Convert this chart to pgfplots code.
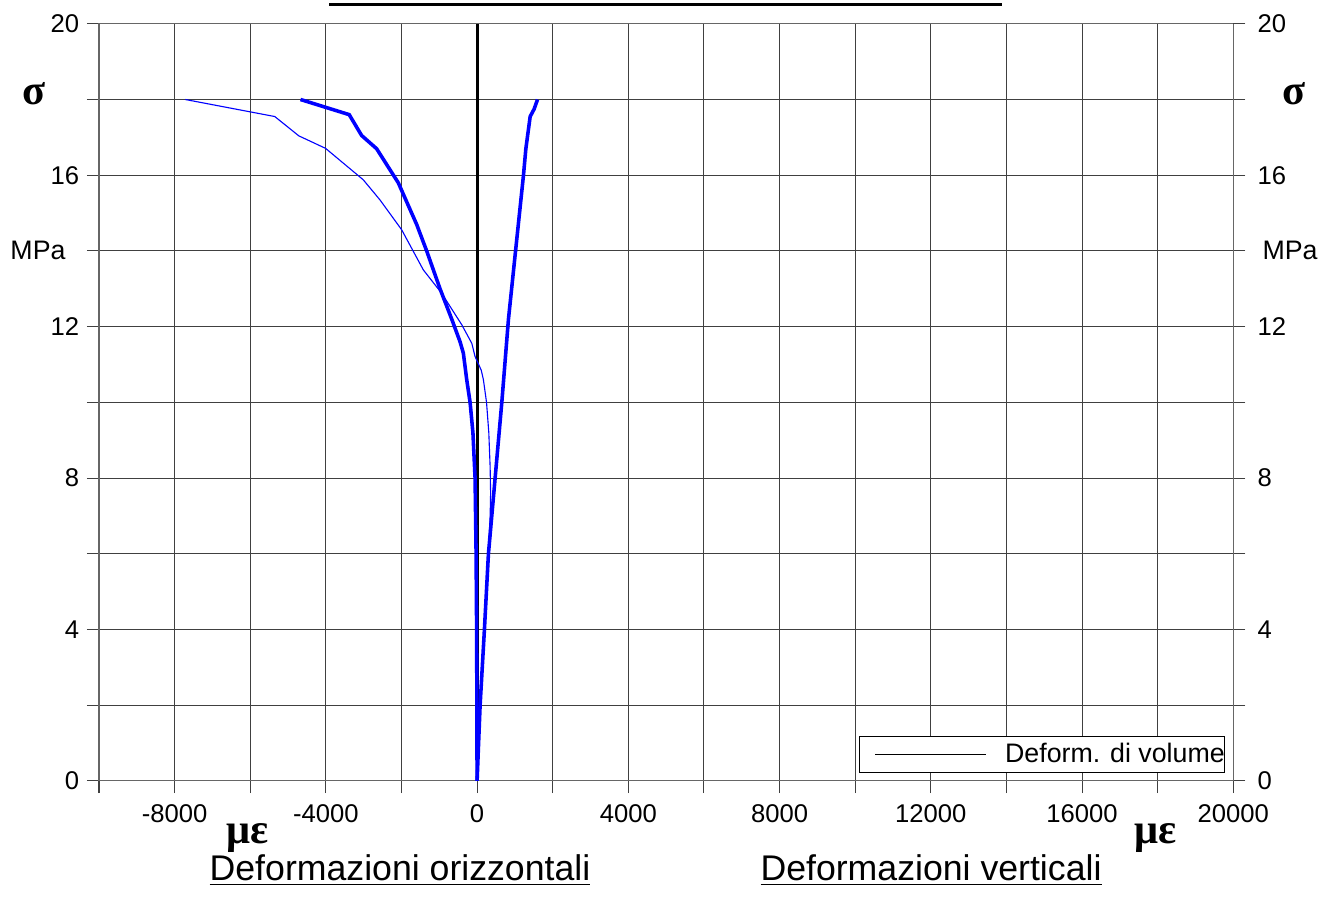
\documentclass[border=0pt]{standalone}
\usepackage{fontspec}
\setmainfont{Liberation Sans}
\newfontfamily\greekfont{Liberation Serif}
\usepackage{pgfplots}
\pgfplotsset{compat=1.18}

\pgfplotstableread{
x y
0 0
-5 2
-12 4
-26 6
-53 8
-110 9.2
-185 10
-274 10.6
-363 11.3
-450 11.6
-671 12.2
-980 13.0
-1333 14.0
-1598 14.7
-2084 15.8
-2657 16.7
-3054 17.05
-3382 17.6
-4670 18.0
}\orizz

\pgfplotstableread{
x y
0 0
80 2
194 4
300 6
477 8
654 10
830 12.2
1007 13.9
1227 16.0
1290 16.7
1404 17.55
1510 17.75
1598 18.0
}\vert

\pgfplotstableread{
x y
0 0
80 2
194 4
300 6
345 7
358 7.6
345 8.3
310 9.2
250 10
167 10.6
110 10.85
-53 11.21
-140 11.56
-405 12.05
-935 12.88
-1422 13.5
-1995 14.56
-2570 15.35
-3011 15.88
-4008 16.71
-4715 17.04
-5351 17.55
-7717 18.0
}\volume

\pgfplotsset{
  common/.style={
    at={(0,0)}, anchor=south west,
    scale only axis, width=17.878cm, height=11.935cm,
    xmin=-10000, xmax=20000, ymin=0, ymax=20,
    scaled x ticks=false, scaled y ticks=false,
    ytick={0,2,...,20},
    yticklabels={0,,4,,8,,12,,16,,20},
    tick align=outside,
    major tick length=0.19cm,
    tick style={black!75, line width=0.45pt},
    axis line style={black!60, line width=0.45pt},
    every tick label/.append style={font=\fontsize{11.5}{13}\selectfont},
    /pgf/number format/assume math mode=true,
  },
}

\begin{document}
\begin{tikzpicture}
\begin{axis}[common,
  xtick={-10000,-8000,...,20000},
  xticklabels={,-8000,,-4000,,0,,4000,,8000,,12000,,16000,,20000},
  xticklabel style={yshift=-1.8pt},
  xtick pos=bottom, ytick pos=left,
  grid=major, grid style={black!75, line width=0.45pt},
  legend style={at={(0.99295,0.01057)}, anchor=south east,
    draw=black, line width=0.45pt, inner xsep=0pt, inner ysep=0.5pt,
    font=\fontsize{12}{14}\selectfont,
    nodes={inner xsep=0pt, inner ysep=2.5pt}},
  legend image code/.code={\path[draw=none] (0,0) -- (2.29cm,0);
    \draw[#1] (0.24cm,0cm) -- (1.99cm,0cm);},
]
\addplot[black, line width=1.4pt, forget plot] coordinates {(0,0) (0,20)};
\addplot[blue, line width=0.5pt, forget plot] table {\volume};
\addplot[blue, line width=1.6pt, forget plot] table {\orizz};
\addplot[blue, line width=1.6pt, forget plot] table {\vert};
\addlegendimage{black, line width=0.5pt}
\addlegendentry{Deform. di volume}
\end{axis}
\begin{axis}[common,
  hide x axis, axis y line*=right,
  xtick=\empty,
  yticklabel style={xshift=2pt},
]
\end{axis}
\begin{scope}[x=0.0157658cm, y=0.0157658cm]
  \useasboundingbox (-99,-132) rectangle (1233,781);
  \draw[black, line width=1.35pt] (230,776) -- (903,776);
  \node[font=\greekfont\bfseries\fontsize{19}{22}\selectfont, anchor=center] at (-65,687) {σ};
  \node[font=\greekfont\bfseries\fontsize{19}{22}\selectfont, anchor=center] at (1195,687) {σ};
  \node[font=\fontsize{12}{14}\selectfont, anchor=center] at (-61,531) {MPa};
  \node[font=\fontsize{12}{14}\selectfont, anchor=center] at (1191,531) {MPa};
  \node[font=\greekfont\bfseries\fontsize{19}{22}\selectfont, anchor=base, inner sep=0pt] at (149,-63) {με};
  \node[font=\greekfont\bfseries\fontsize{19}{22}\selectfont, anchor=base, inner sep=0pt] at (1057,-63) {με};
  \node[font=\fontsize{16}{19}\selectfont, anchor=base, inner sep=0pt] at (301,-100) {\underline{Deformazioni orizzontali}};
  \node[font=\fontsize{16}{19}\selectfont, anchor=base, inner sep=0pt] at (832,-100) {\underline{Deformazioni verticali}};
\end{scope}
\end{tikzpicture}
\end{document}
